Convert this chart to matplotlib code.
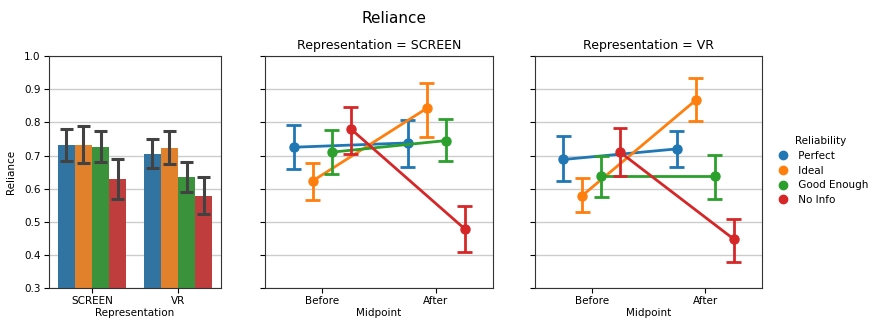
import numpy as np
import matplotlib
matplotlib.use("Agg")
import matplotlib.pyplot as plt
from matplotlib.colors import to_rgb
import colorsys
from matplotlib.lines import Line2D

# DATA
reliability = ["Perfect", "Ideal", "Good Enough", "No Info"]
representation = ["SCREEN", "VR"]
midpoint = ["Before", "After"]

# bar panel: mean reliance per representation (rows) x reliability (cols)
bar_mean = [[0.732, 0.732, 0.727, 0.630],
            [0.704, 0.722, 0.636, 0.578]]
bar_lo = [[0.682, 0.677, 0.680, 0.570],
          [0.662, 0.673, 0.591, 0.523]]
bar_hi = [[0.779, 0.788, 0.774, 0.689],
          [0.749, 0.775, 0.679, 0.636]]

# point panels: [reliability][midpoint]
screen_mean = [[0.725, 0.738], [0.623, 0.842], [0.710, 0.745], [0.781, 0.479]]
screen_lo = [[0.658, 0.666], [0.567, 0.756], [0.644, 0.684], [0.705, 0.409]]
screen_hi = [[0.793, 0.807], [0.676, 0.920], [0.777, 0.809], [0.847, 0.549]]

vr_mean = [[0.688, 0.720], [0.579, 0.867], [0.637, 0.637], [0.710, 0.448]]
vr_lo = [[0.623, 0.665], [0.528, 0.804], [0.574, 0.569], [0.637, 0.378]]
vr_hi = [[0.758, 0.775], [0.631, 0.933], [0.698, 0.702], [0.783, 0.507]]

colors = ["#1f77b4", "#ff7f0e", "#2ca02c", "#d62728"]


def desaturate(c, prop=0.75):
    h, l, s = colorsys.rgb_to_hls(*to_rgb(c))
    return colorsys.hls_to_rgb(h, l, s * prop)


fig = plt.figure(figsize=(8.72, 3.22), dpi=100)
ax1 = fig.add_axes([0.0562, 0.1056, 0.1972, 0.720])
ax2 = fig.add_axes([0.3039, 0.1056, 0.2615, 0.720])
ax3 = fig.add_axes([0.6135, 0.1056, 0.2603, 0.720])

FS = 7.5

for ax in (ax1, ax2, ax3):
    ax.set_ylim(0.3, 1.0)
    ax.set_yticks(np.arange(0.3, 1.01, 0.1))
    ax.yaxis.grid(True, color="#cccccc", linewidth=1)
    ax.set_axisbelow(True)
    ax.set_xlim(-0.5, 1.5)
    ax.tick_params(labelsize=FS, pad=2.5)
    for s in ax.spines.values():
        s.set_color("#333333")

# BARS
bw = 0.2
x = np.arange(len(representation))
for j, rel in enumerate(reliability):
    off = -0.3 + j * bw
    means = [bar_mean[i][j] for i in range(2)]
    ax1.bar(x + off, means, width=bw, color=desaturate(colors[j]), bottom=0,
            zorder=2)
    for i in range(2):
        ax1.plot([x[i] + off] * 2, [bar_lo[i][j], bar_hi[i][j]],
                 color="#424242", lw=2.2, zorder=3, solid_capstyle="butt")
        for yy in (bar_lo[i][j], bar_hi[i][j]):
            ax1.plot([x[i] + off - 0.075, x[i] + off + 0.075], [yy, yy],
                     color="#424242", lw=2.2, zorder=3, solid_capstyle="butt")
ax1.set_ylim(0.3, 1.0)
ax1.set_xticks(x)
ax1.set_xticklabels(representation)
ax1.set_xlabel("Representation", fontsize=FS, labelpad=1)
ax1.set_ylabel("Reliance", fontsize=FS, labelpad=6)

# POINTS
offsets = np.linspace(0, 0.5, 4) - 0.25


def pointpanel(ax, mean, lo, hi, title):
    xm = np.arange(len(midpoint))
    for j in range(len(reliability)):
        xs = xm + offsets[j]
        ax.plot(xs, mean[j], color=colors[j], lw=2.0, marker="o", ms=6.5,
                zorder=3)
        for k in range(2):
            ax.plot([xs[k]] * 2, [lo[j][k], hi[j][k]], color=colors[j],
                    lw=2.0, zorder=3, solid_capstyle="butt")
            for yy in (lo[j][k], hi[j][k]):
                ax.plot([xs[k] - 0.065, xs[k] + 0.065], [yy, yy],
                        color=colors[j], lw=2.0, zorder=3,
                        solid_capstyle="butt")
    ax.set_xticks(xm)
    ax.set_xticklabels(midpoint)
    ax.set_xlabel("Midpoint", fontsize=FS, labelpad=1)
    ax.set_yticklabels([])
    ax.set_title(title, fontsize=9, pad=5)


pointpanel(ax2, screen_mean, screen_lo, screen_hi, "Representation = SCREEN")
pointpanel(ax3, vr_mean, vr_lo, vr_hi, "Representation = VR")

fig.text(0.452, 0.941, "Reliance", fontsize=11, ha="center", va="center")

handles = [Line2D([], [], color=c, marker="o", ls="", ms=6) for c in colors]
fig.legend(handles, [" " + r for r in reliability], title="Reliability",
           loc="center left", bbox_to_anchor=(0.881, 0.47), frameon=False,
           fontsize=FS, title_fontsize=FS, handletextpad=0.2,
           labelspacing=0.45, borderaxespad=0)

fig.savefig("out.png", dpi=100)
